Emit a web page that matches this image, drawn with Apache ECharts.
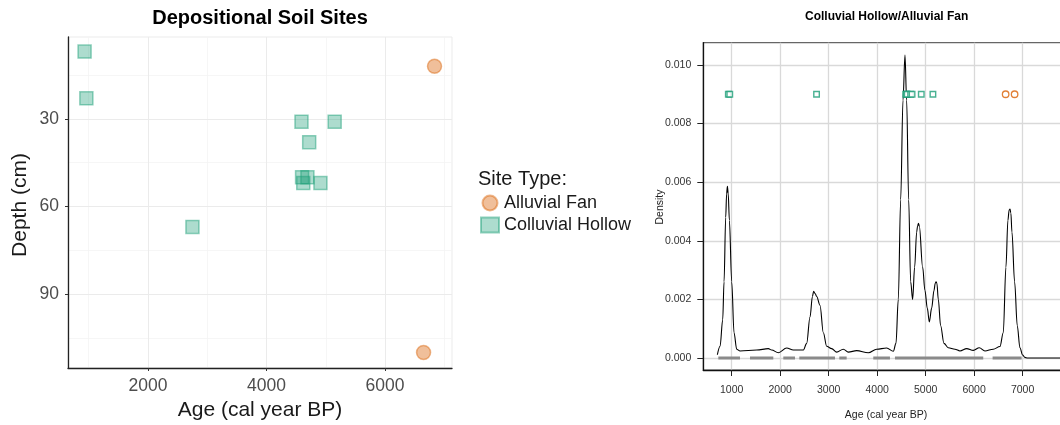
<!DOCTYPE html>
<html>
<head>
<meta charset="utf-8">
<script src="https://cdn.jsdelivr.net/npm/echarts@6/dist/echarts.min.js"></script>
<style>
  html, body { margin: 0; padding: 0; background: #ffffff; }
  #chart { width: 1060px; height: 425px; }
</style>
</head>
<body>
<div id="chart"></div>
<script>
// Dated soil sites: calibrated age against sample depth, by site type
const hollowAge   = [930, 960, 2750, 4590, 4600, 4620, 4690, 4720, 4910, 5150];
const hollowDepth = [7, 23, 67, 31, 50, 52, 50, 38, 52, 31];
const fanAge      = [6650, 6835];
const fanDepth    = [110, 12];

// Summed density of all calibrated ages
const densityAge = [704, 760, 814, 842, 876, 895, 911, 928, 952, 1000, 1048, 1103, 1172, 1515, 1756, 1825, 1962,
  2134, 2271, 2478, 2546, 2615, 2665, 2690, 2720, 2753, 2821, 2890, 2959, 3062, 3165, 3302, 3405, 3577, 3818,
  3990, 4196, 4333, 4388, 4436, 4485, 4533, 4574, 4608, 4650, 4691, 4732, 4773, 4815, 4834, 4852, 4870,
  4938, 4986, 5034, 5076, 5124, 5172, 5198, 5215, 5232, 5261, 5309, 5378, 5467, 5605, 5708, 5846, 5983, 6107,
  6223, 6395, 6533, 6601, 6656, 6697, 6722, 6740, 6758, 6780, 6835, 6890, 6945, 7000, 7048, 7100, 7860];
const densityValue = [0.00011, 0.0004, 0.0013, 0.0026, 0.0048, 0.0056, 0.00586, 0.0056, 0.0047, 0.0026, 0.00086,
  0.0003, 0.00024, 0.00027, 0.00032, 0.00027, 0.00018, 0.00034, 0.00027, 0.00027, 0.0005, 0.0014,
  0.0021, 0.00228, 0.0022, 0.0021, 0.0018, 0.00086, 0.0004, 0.00032, 0.0002, 0.0003, 0.0002, 0.00025,
  0.00018, 0.0003, 0.00034, 0.00023, 0.0005, 0.002, 0.0054, 0.0088, 0.01034, 0.0088, 0.0054, 0.0026,
  0.002, 0.0031, 0.0043, 0.0045, 0.0046, 0.0045, 0.0031, 0.0023, 0.0017, 0.00123, 0.0017, 0.0023,
  0.00255, 0.0026, 0.00255, 0.002, 0.0011, 0.0005, 0.00035, 0.0003, 0.00024, 0.00032, 0.00026, 0.00035,
  0.00024, 0.0003, 0.00039, 0.00086, 0.0031, 0.0047, 0.00505, 0.00508, 0.00495, 0.0043, 0.0026, 0.0011,
  0.00035, 0.0001, 0.00002, 0, 0];

// Age ranges marked along the zero line
const rugStart = [724, 1377, 2064, 2394, 3219, 3920, 4367, 6381];
const rugEnd   = [1171, 1858, 2305, 3130, 3371, 4264, 6188, 6979];

// Density level where the individual site ages are marked
const markerDensity = 0.009;

// Tick values
const ageTicksLeft  = [2000, 4000, 6000];
const ageMinorLeft  = [1000, 3000, 5000, 7000];
const depthTicks    = [30, 60, 90];
const depthMinor    = [15, 45, 75, 105];
const ageTicksRight = [1000, 2000, 3000, 4000, 5000, 6000, 7000];
const densityTicks  = [0, 0.002, 0.004, 0.006, 0.008, 0.010];

const FONT = '"Liberation Sans", Arial, Helvetica, sans-serif';
const GREEN = '#1b9e77';
const ORANGE = '#d95f02';

const zip = (a, b) => a.map((v, i) => [v, b[i]]);
const plain = v => String(v);

const rugData = [];
rugStart.forEach((s, i) => {
  rugData.push([s, 0], [rugEnd[i], 0], [rugEnd[i], '-']);
});

const chart = echarts.init(document.getElementById('chart'), null, { renderer: 'canvas' });

const option = {
  animation: false,
  backgroundColor: '#ffffff',
  textStyle: { fontFamily: FONT },
  grid: [
    { left: 68, top: 37, width: 384, height: 331, show: true, borderColor: '#ebebeb', borderWidth: 1,
      backgroundColor: 'transparent', outerBoundsMode: 'none', containLabel: false },
    { left: 703.3, top: 42.7, width: 361, height: 327.3, show: true, borderColor: '#666666', borderWidth: 1.2,
      backgroundColor: 'transparent', outerBoundsMode: 'none', containLabel: false }
  ],
  xAxis: [
    {
      gridIndex: 0, type: 'value', min: 650, max: 7130, z: 1.5,
      axisLine: { show: true, onZero: false, lineStyle: { color: '#222', width: 1.3 } },
      axisTick: { show: true, length: 3, customValues: ageTicksLeft, lineStyle: { color: '#333' } },
      axisLabel: { customValues: ageTicksLeft, margin: 9, color: '#4d4d4d', fontSize: 17.5, fontFamily: FONT,
        formatter: plain },
      splitLine: { show: true, lineStyle: { color: '#ebebeb', width: 1 } }
    },
    {
      gridIndex: 1, type: 'value', min: 414, max: 7860,
      axisLine: { show: true, onZero: false, lineStyle: { color: '#111', width: 1.3 } },
      axisTick: { show: true, length: 6, customValues: ageTicksRight, lineStyle: { color: '#222', width: 1 } },
      axisLabel: { customValues: ageTicksRight, margin: 15, color: '#333', fontSize: 10.5, fontFamily: FONT,
        formatter: plain },
      splitLine: { show: true, lineStyle: { color: '#d9d9d9', width: 1.3 } }
    }
  ],
  yAxis: [
    {
      gridIndex: 0, type: 'value', inverse: true, min: 2, max: 115.3, z: 1.5,
      axisLine: { show: true, onZero: false, lineStyle: { color: '#222', width: 1.3 } },
      axisTick: { show: true, length: 3, customValues: depthTicks, lineStyle: { color: '#333' } },
      axisLabel: { customValues: depthTicks, margin: 9, color: '#4d4d4d', fontSize: 17.5, fontFamily: FONT,
        formatter: plain },
      splitLine: { show: true, lineStyle: { color: '#ebebeb', width: 1 } }
    },
    {
      gridIndex: 1, type: 'value', min: -0.00041, max: 0.01076,
      axisLine: { show: true, onZero: false, lineStyle: { color: '#111', width: 1.3 } },
      axisTick: { show: true, length: 6, customValues: densityTicks, lineStyle: { color: '#222', width: 1 } },
      axisLabel: { customValues: densityTicks, margin: 12, color: '#333', fontSize: 10.5, fontFamily: FONT,
        formatter: v => v.toFixed(3) },
      splitLine: { show: true, lineStyle: { color: '#d9d9d9', width: 1.3 } }
    }
  ],
  legend: {
    orient: 'vertical', left: 480, top: 194, padding: 0, itemGap: 4,
    itemWidth: 18, itemHeight: 15,
    textStyle: { fontSize: 18, color: '#1a1a1a', fontFamily: FONT },
    data: ['Alluvial Fan', 'Colluvial Hollow']
  },
  graphic: [
    { type: 'text', x: 260, y: 18, silent: true,
      style: { text: 'Depositional Soil Sites', align: 'center', verticalAlign: 'middle',
        font: 'bold 20px ' + FONT, fill: '#000' } },
    { type: 'text', x: 260, y: 410, silent: true,
      style: { text: 'Age (cal year BP)', align: 'center', verticalAlign: 'middle',
        font: '21px ' + FONT, fill: '#1a1a1a' } },
    { type: 'text', x: 20, y: 205, rotation: Math.PI / 2, silent: true,
      style: { text: 'Depth (cm)', align: 'center', verticalAlign: 'middle',
        font: '21px ' + FONT, fill: '#1a1a1a' } },
    { type: 'text', x: 478, y: 179, silent: true,
      style: { text: 'Site Type:', align: 'left', verticalAlign: 'middle',
        font: '20px ' + FONT, fill: '#1a1a1a' } },
    { type: 'text', x: 886.7, y: 17, silent: true,
      style: { text: 'Colluvial Hollow/Alluvial Fan', align: 'center', verticalAlign: 'middle',
        font: 'bold 12px ' + FONT, fill: '#000' } },
    { type: 'text', x: 886, y: 415.5, silent: true,
      style: { text: 'Age (cal year BP)', align: 'center', verticalAlign: 'middle',
        font: '10.5px ' + FONT, fill: '#222' } },
    { type: 'text', x: 660, y: 207, rotation: Math.PI / 2, silent: true,
      style: { text: 'Density', align: 'center', verticalAlign: 'middle',
        font: '10.5px ' + FONT, fill: '#222' } }
  ],
  series: [
    // minor grid of the scatter panel, kept beneath the axis lines
    {
      type: 'line', xAxisIndex: 0, yAxisIndex: 0, data: [], silent: true, z: 0,
      markLine: {
        silent: true, symbol: 'none', label: { show: false }, animation: false, z: 0,
        lineStyle: { color: '#f4f4f4', width: 0.8, type: 'solid' },
        data: ageMinorLeft.map(v => ({ xAxis: v })).concat(depthMinor.map(v => ({ yAxis: v })))
      }
    },
    {
      name: 'Alluvial Fan', type: 'scatter', xAxisIndex: 0, yAxisIndex: 0,
      symbol: 'circle', symbolSize: 14,
      itemStyle: { color: 'rgba(217,95,2,0.5)', borderColor: 'rgba(217,95,2,0.55)', borderWidth: 1.5 },
      data: zip(fanAge, fanDepth), z: 3
    },
    {
      name: 'Colluvial Hollow', type: 'scatter', xAxisIndex: 0, yAxisIndex: 0,
      symbol: 'rect', symbolSize: 13,
      itemStyle: { color: 'rgba(27,158,119,0.45)', borderColor: 'rgba(27,158,119,0.6)', borderWidth: 1.5 },
      data: zip(hollowAge, hollowDepth), z: 3
    },
    {
      name: 'ranges', type: 'line', xAxisIndex: 1, yAxisIndex: 1,
      showSymbol: false, symbol: 'none', connectNulls: false,
      lineStyle: { color: '#8a8a8a', width: 3 },
      data: rugData, z: 2
    },
    {
      name: 'density', type: 'line', xAxisIndex: 1, yAxisIndex: 1,
      showSymbol: false, symbol: 'none', smooth: 0.35, smoothMonotone: 'x',
      lineStyle: { color: '#000', width: 1.1 },
      data: zip(densityAge, densityValue), z: 3
    },
    {
      name: 'hollow ages', type: 'scatter', xAxisIndex: 1, yAxisIndex: 1,
      symbol: 'rect', symbolSize: 5.5,
      itemStyle: { color: '#ffffff', borderColor: GREEN, borderWidth: 1.4 },
      data: hollowAge.map(a => [a, markerDensity]), z: 4
    },
    {
      name: 'fan ages', type: 'scatter', xAxisIndex: 1, yAxisIndex: 1,
      symbol: 'circle', symbolSize: 6.5,
      itemStyle: { color: '#ffffff', borderColor: ORANGE, borderWidth: 1.3 },
      data: fanAge.map(a => [a, markerDensity]), z: 4
    }
  ]
};

chart.setOption(option);
</script>
</body>
</html>
